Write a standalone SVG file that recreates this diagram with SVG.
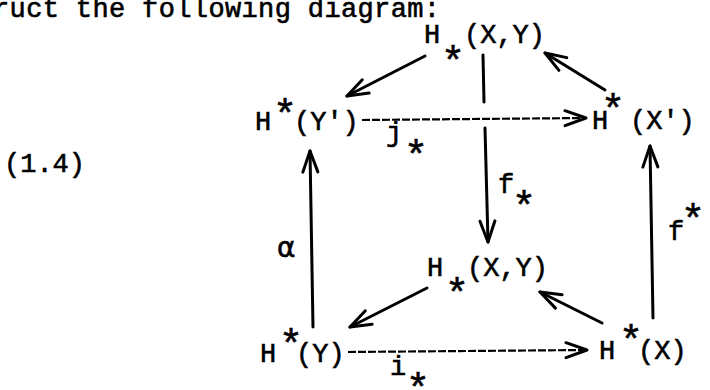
<svg xmlns="http://www.w3.org/2000/svg" width="710" height="390" viewBox="0 0 710 390">
<style>
  text { font-family: "Liberation Mono", "DejaVu Sans Mono", monospace; font-size: 27px; fill: #000; stroke: #000; stroke-width: 0.6px; }
  text.st { font-size: 40px; }
  text.al { font-family: "DejaVu Sans", sans-serif; font-size: 28px; }
  .solid { stroke: #000; stroke-width: 3; fill: none; stroke-linecap: round; }
  .dash { stroke: #000; stroke-width: 2.2; fill: none; stroke-dasharray: 8 2; }
</style>
<defs>
  <marker id="ah" markerUnits="userSpaceOnUse" viewBox="-26 -12 30 24" markerWidth="30" markerHeight="24" refX="0" refY="0" orient="auto" overflow="visible">
    <path d="M-21,-7.5 L0,0 L-21,7.5" fill="none" stroke="#000" stroke-width="3" stroke-linecap="round" stroke-linejoin="round"/>
  </marker>
</defs>
<rect width="710" height="390" fill="#fff"/>
<text x="-7" y="17" textLength="447" lengthAdjust="spacing">ruct the following diagram:</text>
<text x="4" y="172">(1.4)</text>
<g id="connectors">
  <line class="solid" x1="425" y1="56" x2="347" y2="96" marker-end="url(#ah)"/>
  <line class="solid" x1="483" y1="55" x2="484" y2="102"/>
  <line class="solid" x1="485" y1="128" x2="488" y2="242" marker-end="url(#ah)"/>
  <line class="solid" x1="605" y1="90" x2="545" y2="53" marker-end="url(#ah)"/>
  <line class="dash" x1="362" y1="120" x2="586" y2="118" marker-end="url(#ah)"/>
  <line class="solid" x1="313" y1="327" x2="310" y2="151" marker-end="url(#ah)"/>
  <line class="solid" x1="653" y1="318" x2="650" y2="146" marker-end="url(#ah)"/>
  <line class="solid" x1="427" y1="288" x2="350" y2="327" marker-end="url(#ah)"/>
  <line class="solid" x1="602" y1="323" x2="540" y2="292" marker-end="url(#ah)"/>
  <line class="dash" x1="348" y1="352" x2="587" y2="350" marker-end="url(#ah)"/>
  <text x="386" y="141">j</text><text class="st" x="404" y="169">*</text>
  <text x="498" y="193">f</text><text class="st" x="512" y="220">*</text>
  <text class="al" x="277" y="257">α</text>
  <text x="668" y="240">f</text><text class="st" x="681" y="233">*</text>
  <text x="390" y="375">i</text><text class="st" x="406" y="402">*</text>
</g>
<g id="node-hxy-top">
  <text x="424" y="43">H</text><text class="st" x="441" y="75">*</text><text x="464" y="43">(X,Y)</text>
</g>
<g id="node-hyp">
  <text x="255" y="130">H</text><text class="st" x="273" y="128">*</text><text x="294" y="130">(Y')</text>
</g>
<g id="node-hxp">
  <text x="592" y="129">H</text><text class="st" x="601" y="123">*</text><text x="630" y="129">(X')</text>
</g>
<g id="node-hxy-bottom">
  <text x="427" y="276">H</text><text class="st" x="445" y="307">*</text><text x="467" y="276">(X,Y)</text>
</g>
<g id="node-hy">
  <text x="260" y="362">H</text><text class="st" x="279" y="358">*</text><text x="296" y="362">(Y)</text>
</g>
<g id="node-hx">
  <text x="599" y="359">H</text><text class="st" x="619" y="354">*</text><text x="638" y="359">(X)</text>
</g>
</svg>
